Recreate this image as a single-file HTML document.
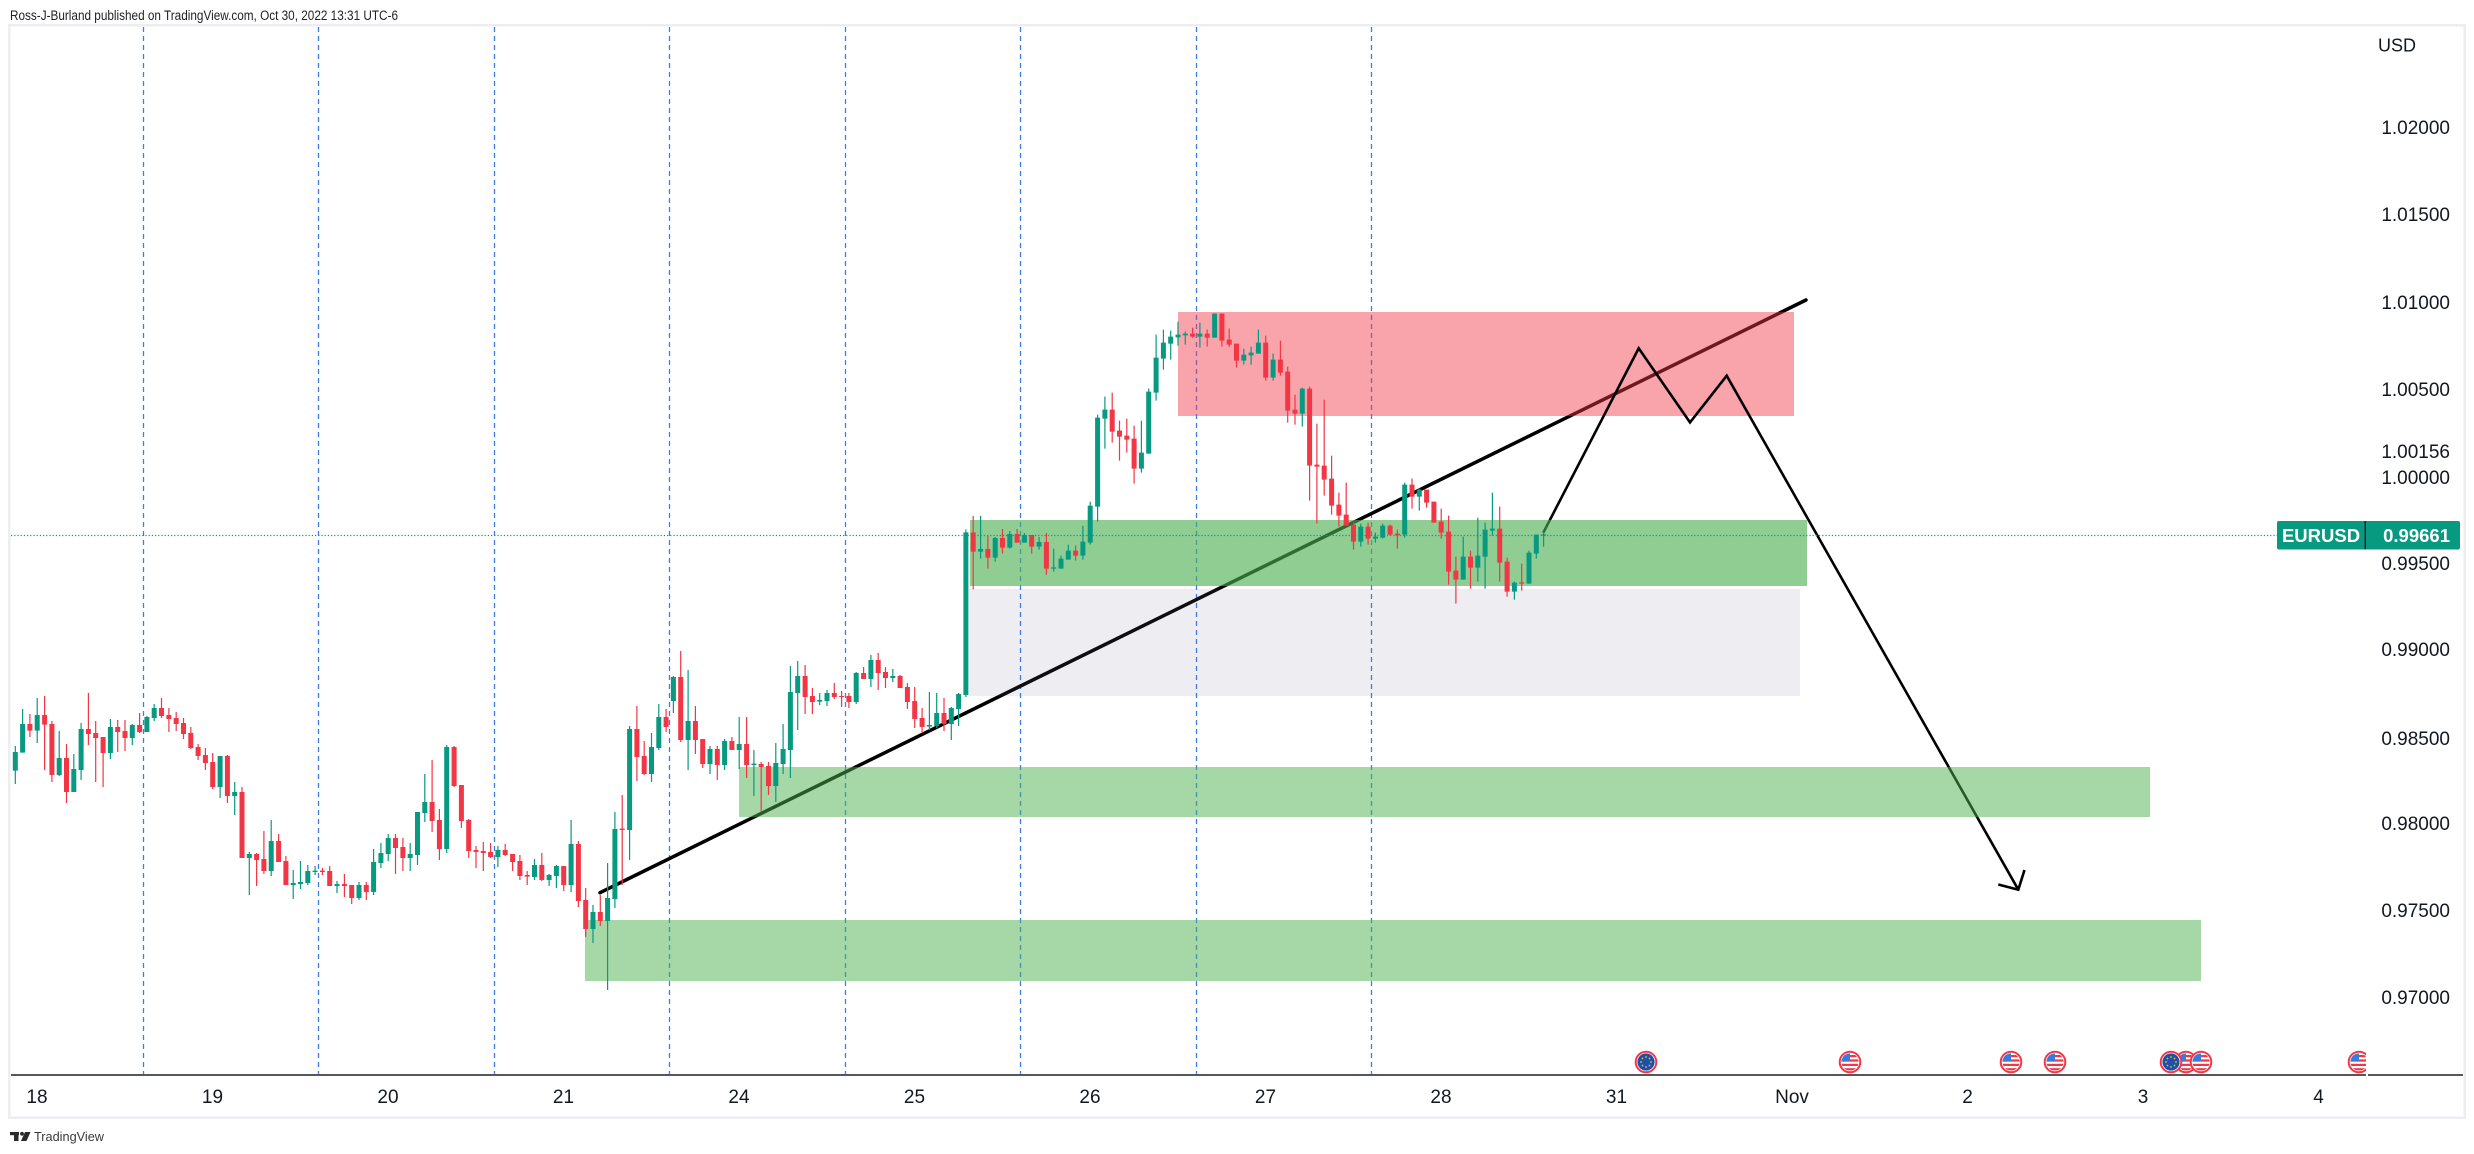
<!DOCTYPE html>
<html><head><meta charset="utf-8"><style>
html,body{margin:0;padding:0;background:#fff;}
svg{display:block;}
text{font-family:"Liberation Sans",Arial,sans-serif;}
</style></head><body>
<svg width="2474" height="1154" viewBox="0 0 2474 1154" xmlns="http://www.w3.org/2000/svg">
<defs>
<clipPath id="pane"><rect x="11" y="27" width="2355" height="1048"/></clipPath>
<clipPath id="ic"><circle cx="0" cy="0" r="8.6"/></clipPath>
<g id="us">
<circle r="10.3" fill="#fff" stroke="#f23645" stroke-width="2"/>
<g clip-path="url(#ic)">
<rect x="-9" y="-9" width="18" height="18" fill="#fff"/>
<rect x="-9" y="-7" width="18" height="2.2" fill="#f23645"/>
<rect x="-9" y="-2.6" width="18" height="2.2" fill="#f23645"/>
<rect x="-9" y="1.8" width="18" height="2.2" fill="#f23645"/>
<rect x="-9" y="6.2" width="18" height="2.2" fill="#f23645"/>
<rect x="-9" y="-9" width="9" height="8.6" fill="#3a7be0"/>
</g>
</g>
<g id="eu">
<circle r="10.3" fill="#fff" stroke="#f23645" stroke-width="2"/>
<circle r="8.6" fill="#1d4fae"/>
<g fill="#f5c400">
<circle cx="0" cy="-5" r="0.9"/><circle cx="3.5" cy="-3.5" r="0.9"/><circle cx="5" cy="0" r="0.9"/><circle cx="3.5" cy="3.5" r="0.9"/>
<circle cx="0" cy="5" r="0.9"/><circle cx="-3.5" cy="3.5" r="0.9"/><circle cx="-5" cy="0" r="0.9"/><circle cx="-3.5" cy="-3.5" r="0.9"/>
</g>
</g>
</defs>

<rect width="2474" height="1154" fill="#fff"/>

<!-- header -->
<text x="10" y="20" font-size="13.5" fill="#222" textLength="388" lengthAdjust="spacingAndGlyphs">Ross-J-Burland published on TradingView.com, Oct 30, 2022 13:31 UTC-6</text>

<!-- frame -->
<rect x="9.25" y="25.25" width="2455.5" height="1092.5" fill="none" stroke="#edeef2" stroke-width="2.5"/>

<!-- session dashed lines -->
<g stroke="#3f7de6" stroke-width="1.3" stroke-dasharray="5 4">
<line x1="143.5" y1="27" x2="143.5" y2="1074"/>
<line x1="318.5" y1="27" x2="318.5" y2="1074"/>
<line x1="494.5" y1="27" x2="494.5" y2="1074"/>
<line x1="669.5" y1="27" x2="669.5" y2="1074"/>
<line x1="845.5" y1="27" x2="845.5" y2="1074"/>
<line x1="1020.5" y1="27" x2="1020.5" y2="1074"/>
<line x1="1196.5" y1="27" x2="1196.5" y2="1074"/>
<line x1="1371.5" y1="27" x2="1371.5" y2="1074"/>
</g>

<!-- trend line -->
<line x1="600" y1="892.7" x2="1806" y2="300" stroke="#000" stroke-width="3.5" stroke-linecap="round"/>

<!-- red box -->
<rect x="1178" y="312" width="616" height="104" fill="rgba(242,54,69,0.45)"/>

<!-- zigzag projection -->
<polyline points="1543.3,532.7 1638.7,348.3 1690,422.4 1726.7,375.7 2018.3,889.7" fill="none" stroke="#000" stroke-width="2.6" stroke-linejoin="miter"/>
<polyline points="1998.3,884.5 2018.3,889.7 2024.5,870" fill="none" stroke="#000" stroke-width="2.6"/>

<!-- zones -->
<rect x="970" y="520" width="837" height="66" fill="rgba(76,175,80,0.62)"/>
<rect x="969" y="589" width="831" height="107" fill="rgba(103,110,150,0.12)"/>
<rect x="739" y="767" width="1411" height="50" fill="rgba(76,175,80,0.5)"/>
<rect x="585" y="920" width="1616" height="61" fill="rgba(76,175,80,0.5)"/>

<!-- candles group A -->
<g transform="translate(0,660) scale(1,0.333333)" fill="none">
<path stroke="#089981" stroke-width="1.2" d="M15.3 258V372M22.6 147V278M37.2 114V249M59.2 213V348M73.8 282V396M81.1 189V360M110.4 177V297M132.3 192V255M146.9 168V216M154.2 132V183M220.1 288V414M234.7 366V465M249.3 576V705M271.2 480V648M293.2 630V717M300.5 603V687M307.8 615V675M315.1 618V645M337.0 663V699M359.0 666V720M373.6 567V705M380.9 549V624M388.2 522V603M410.2 549V633M417.5 456V615M424.8 342V486M446.7 255V579M497.9 558V621"/>
<path stroke="#089981" stroke-width="5" d="M15.3 276V332M22.6 192V278M37.2 165V212M59.2 294V345M73.8 327V396M81.1 207V330M110.4 201V279M132.3 195V234M146.9 171V216M154.2 144V174M220.1 288V381M234.7 396V408M249.3 582V594M271.2 543V633M293.2 669V675M300.5 666V672M307.8 633V669M315.1 632V636M337.0 672V678M359.0 675V714M373.6 606V696M380.9 579V609M388.2 534V582M410.2 582V594M417.5 456V585M424.8 426V459M446.7 261V567M497.9 570V591"/>
<path stroke="#f23645" stroke-width="1.2" d="M29.9 162V231M44.6 108V330M51.9 183V366M66.5 252V429M88.4 99V255M95.7 183V366M103.1 231V381M117.7 180V276M125.0 180V273M139.6 159V219M161.5 114V174M168.9 144V216M176.2 156V213M183.5 174V237M190.8 201V267M198.1 252V300M205.4 264V330M212.7 279V387M227.4 285V429M242.0 381V594M256.6 579V678M263.9 513V642M278.6 522V606M285.9 588V675M322.4 624V645M329.7 618V678M344.4 642V711M351.7 675V732M366.3 666V720M395.5 522V642M402.9 534V633M432.1 300V516M439.4 447V600M454.1 258V381M461.4 375V504M468.7 477V594M476.0 558V624M483.3 546V633M490.6 549V594M505.2 552V588M512.6 582V633"/>
<path stroke="#f23645" stroke-width="5" d="M29.9 192V212M44.6 165V194M51.9 192V345M66.5 294V396M88.4 207V222M95.7 219V234M103.1 231V279M117.7 201V216M125.0 213V234M139.6 195V216M161.5 144V168M168.9 165V177M176.2 174V192M183.5 189V222M190.8 219V264M198.1 261V288M205.4 285V309M212.7 306V381M227.4 288V408M242.0 396V594M256.6 582V600M263.9 597V633M278.6 543V606M285.9 603V675M322.4 632V636M329.7 633V678M344.4 672V678M351.7 675V714M366.3 675V696M395.5 534V564M402.9 561V594M432.1 426V483M439.4 480V567M454.1 261V378M461.4 375V483M468.7 480V573M476.0 570V576M483.3 573V579M490.6 576V591M505.2 570V585M512.6 582V606"/>
</g>

<!-- candles group B -->
<g transform="translate(0,620) scale(1,0.333333)" fill="none">
<path stroke="#089981" stroke-width="1.2" d="M534.5 717V780M549.1 762V798M556.4 735V804M571.1 600V816M593.0 855V969M607.6 729V1110M614.9 576V864M629.6 318V720M651.5 339V486M658.8 252V390M673.4 168V279M688.1 150V450M710.0 378V462M724.6 357V450M739.2 291V447M753.9 390V528M775.8 369V546M783.1 312V462M790.4 138V474M797.7 123V330M819.7 219V255M827.0 210V258M856.2 156V252M870.9 105V201M892.8 147V186M929.4 216V330M936.7 219V324M951.3 261V360M958.6 219V318"/>
<path stroke="#089981" stroke-width="5" d="M534.5 735V771M549.1 765V780M556.4 738V768M571.1 672V795M593.0 876V927M607.6 834V903M614.9 627V837M629.6 327V630M651.5 381V462M658.8 291V384M673.4 171V243M688.1 303V360M710.0 387V432M724.6 363V435M739.2 372V390M753.9 431V435M775.8 429V498M783.1 387V432M790.4 216V390M797.7 168V219M819.7 240V245M827.0 219V243M856.2 159V246M870.9 120V177M892.8 168V174M929.4 315V320M936.7 279V318M951.3 264V312M958.6 222V267"/>
<path stroke="#f23645" stroke-width="1.2" d="M519.9 705V780M527.2 753V795M541.8 699V783M563.7 738V813M578.4 663V861M585.7 804V951M600.3 825V918M622.2 525V795M636.9 258V483M644.2 363V465M666.1 267V336M680.7 93V366M695.4 258V402M702.7 357V444M717.3 378V480M731.9 351V390M746.6 291V474M761.2 426V576M768.5 426V525M805.1 135V282M812.4 204V282M834.3 189V237M841.6 213V261M848.9 219V264M863.6 141V177M878.2 99V210M885.5 141V204M900.1 165V204M907.4 189V267M914.7 201V324M922.1 264V339M944.0 234V333"/>
<path stroke="#f23645" stroke-width="5" d="M519.9 723V768M527.2 765V770M541.8 735V780M563.7 738V795M578.4 672V843M585.7 840V927M600.3 876V903M622.2 626V630M636.9 327V411M644.2 408V462M666.1 291V321M680.7 171V360M695.4 303V360M702.7 357V432M717.3 387V435M731.9 363V390M746.6 372V435M761.2 432V441M768.5 438V498M805.1 168V231M812.4 228V246M834.3 219V231M841.6 228V231M848.9 228V246M863.6 159V177M878.2 120V159M885.5 156V174M900.1 168V204M907.4 201V246M914.7 243V297M922.1 294V321M944.0 279V312"/>
</g>

<!-- candles group C -->
<g transform="translate(0,290) scale(1,0.333333)" fill="none">
<path stroke="#089981" stroke-width="1.2" d="M965.9 718V1221M980.6 678V806M995.2 741V815M1009.8 723V776M1024.4 729V758M1039.1 741V779M1053.7 776V845M1061.0 797V836M1068.3 764V809M1082.9 707V809M1090.2 635V764M1097.6 374V695M1104.9 320V476M1141.4 392V548M1148.7 296V491M1156.1 134V332M1163.4 119V239M1170.7 122V209M1178.0 95V167M1185.3 125V164M1199.9 98V173M1214.6 70V143M1243.8 176V224M1251.1 170V224M1258.4 119V191M1273.1 191V272M1302.3 293V410M1360.8 701V770M1375.4 728V758M1382.7 701V746M1404.7 578V743M1419.3 596V662M1463.2 740V869M1477.8 683V875M1485.1 698V896M1492.4 608V737M1514.4 875V929M1529.0 782V881M1536.3 734V806M1543.6 728V770"/>
<path stroke="#089981" stroke-width="5" d="M965.9 727V1215M980.6 777V785M995.2 744V803M1009.8 732V773M1024.4 735V758M1039.1 756V770M1053.7 832V836M1061.0 806V836M1068.3 782V809M1082.9 755V797M1090.2 647V758M1097.6 383V650M1104.9 359V386M1141.4 488V536M1148.7 305V491M1156.1 203V308M1163.4 158V206M1170.7 140V161M1178.0 134V142M1185.3 131V136M1199.9 131V140M1214.6 71V143M1243.8 194V212M1251.1 188V196M1258.4 158V191M1273.1 209V263M1302.3 296V371M1360.8 710V755M1375.4 740V746M1382.7 707V743M1404.7 584V734M1419.3 599V620M1463.2 800V869M1477.8 797V833M1485.1 719V800M1492.4 716V722M1514.4 878V905M1529.0 788V881M1536.3 734V791M1543.6 733V737"/>
<path stroke="#f23645" stroke-width="1.2" d="M973.2 678V898M987.9 738V836M1002.5 717V791M1017.1 717V758M1031.7 735V791M1046.4 729V854M1075.6 767V812M1112.2 308V458M1119.5 392V512M1126.8 386V488M1134.1 407V581M1192.6 113V143M1207.2 119V170M1221.9 70V170M1229.2 116V170M1236.5 161V233M1265.7 137V272M1280.4 152V257M1287.7 230V398M1295.0 314V404M1309.6 290V632M1316.9 401V701M1324.2 329V617M1331.6 497V674M1338.9 608V710M1346.2 578V707M1353.5 695V779M1368.1 698V764M1390.1 704V737M1397.4 719V776M1412.0 566V656M1426.6 605V653M1433.9 635V698M1441.2 656V746M1448.6 677V884M1455.9 800V941M1470.5 782V896M1499.7 650V875M1507.1 803V920M1521.7 821V902"/>
<path stroke="#f23645" stroke-width="5" d="M973.2 727V785M987.9 777V803M1002.5 744V773M1017.1 732V758M1031.7 735V770M1046.4 756V836M1075.6 782V797M1112.2 359V425M1119.5 422V440M1126.8 437V449M1134.1 446V536M1192.6 131V140M1207.2 131V143M1221.9 71V152M1229.2 149V164M1236.5 161V212M1265.7 158V263M1280.4 209V248M1287.7 245V362M1295.0 359V371M1309.6 296V527M1316.9 524V530M1324.2 527V569M1331.6 566V647M1338.9 644V677M1346.2 674V707M1353.5 704V755M1368.1 710V746M1390.1 707V734M1397.4 731V736M1412.0 584V620M1426.6 599V638M1433.9 635V698M1441.2 695V728M1448.6 725V845M1455.9 842V869M1470.5 800V833M1499.7 716V818M1507.1 815V905M1521.7 877V881"/>
</g>

<!-- last price dotted line -->
<line x1="11" y1="535.5" x2="2277" y2="535.5" stroke="#089981" stroke-width="1.2" stroke-dasharray="1.2 2"/>

<!-- event icons -->
<g clip-path="url(#pane)">
<use href="#eu" x="1646" y="1062"/>
<use href="#us" x="1850" y="1062"/>
<use href="#us" x="2011" y="1062"/>
<use href="#us" x="2055" y="1062"/>
<use href="#us" x="2186" y="1062"/>
<use href="#eu" x="2171" y="1062"/>
<use href="#us" x="2201" y="1062"/>
<use href="#us" x="2359" y="1062"/>
</g>

<!-- time axis line -->
<rect x="11" y="1074.2" width="2355" height="1.6" fill="#2a2e39"/>
<rect x="2368" y="1074.2" width="95" height="1.6" fill="#2a2e39"/>

<!-- date labels -->
<g font-size="19" fill="#131722" text-anchor="middle">
<text x="37" y="1103">18</text>
<text x="212.5" y="1103">19</text>
<text x="388" y="1103">20</text>
<text x="563.5" y="1103">21</text>
<text x="739" y="1103">24</text>
<text x="914.5" y="1103">25</text>
<text x="1090" y="1103">26</text>
<text x="1265.5" y="1103">27</text>
<text x="1441" y="1103">28</text>
<text x="1616.5" y="1103">31</text>
<text x="1792" y="1103">Nov</text>
<text x="1967.5" y="1103">2</text>
<text x="2143" y="1103">3</text>
<text x="2318.5" y="1103">4</text>
</g>

<!-- price scale -->
<text x="2378" y="51.5" font-size="18" fill="#131722">USD</text>
<g font-size="19" fill="#131722" text-anchor="end">
<text x="2450" y="133.8">1.02000</text>
<text x="2450" y="220.8">1.01500</text>
<text x="2450" y="308.8">1.01000</text>
<text x="2450" y="395.8">1.00500</text>
<text x="2450" y="457.8">1.00156</text>
<text x="2450" y="483.8">1.00000</text>
<text x="2450" y="569.8">0.99500</text>
<text x="2450" y="655.8">0.99000</text>
<text x="2450" y="744.8">0.98500</text>
<text x="2450" y="829.8">0.98000</text>
<text x="2450" y="916.8">0.97500</text>
<text x="2450" y="1003.8">0.97000</text>
</g>

<!-- EURUSD label -->
<rect x="2277" y="521" width="183" height="28.5" rx="2" fill="#089981"/>
<rect x="2364.5" y="521" width="1.5" height="28.5" fill="#1e222d"/>
<text x="2321" y="542" font-size="18.5" font-weight="bold" fill="#fff" text-anchor="middle">EURUSD</text>
<text x="2450" y="542" font-size="18.5" font-weight="bold" fill="#fff" text-anchor="end">0.99661</text>

<!-- TradingView footer -->
<g fill="#2a2a2a">
<rect x="10" y="1132" width="9" height="3.2"/>
<rect x="14" y="1132" width="4.5" height="9"/>
<circle cx="22" cy="1133.8" r="1.9"/>
<polygon points="25,1132 30.5,1132 26.5,1141 21,1141"/>
</g>
<text x="34" y="1141" font-size="13" fill="#3a3a3a" textLength="70" lengthAdjust="spacingAndGlyphs">TradingView</text>
</svg>
</body></html>
